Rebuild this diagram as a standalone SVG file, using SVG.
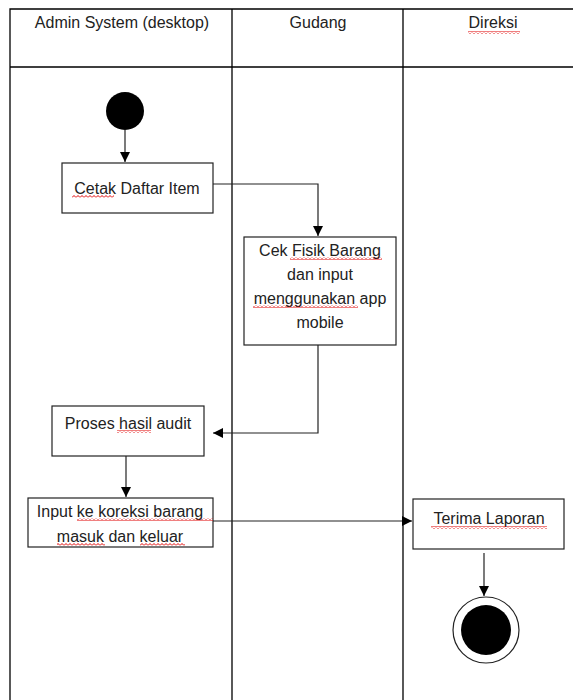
<svg xmlns="http://www.w3.org/2000/svg" width="573" height="700" viewBox="0 0 573 700">
<defs>
<style>
.lane{stroke:#000;stroke-width:1.3;fill:none}
.box{fill:#fff;stroke:#222;stroke-width:1.2}
.t{font-family:"Liberation Sans",Arial,sans-serif;font-size:16px;fill:#222;text-anchor:middle}
.c{stroke:#222;stroke-width:1.2;fill:none}
</style>
<marker id="ah" viewBox="0 0 10 10" refX="10" refY="5" markerWidth="10" markerHeight="10" markerUnits="userSpaceOnUse" orient="auto">
<path d="M0,0 L10,5 L0,10 Z" fill="#000"/>
</marker>
<pattern id="sq" width="4" height="3" patternUnits="userSpaceOnUse">
<path d="M0,2.5 L2,0.5 L4,2.5" stroke="#e00000" stroke-width="1" fill="none"/>
</pattern>
</defs>
<g id="lanes">
<path class="lane" d="M10,700 V9 H573 M232,9 V700 M403,9 V700 M10,67 H573"/>
<text class="t" x="122" y="28">Admin System (desktop)</text>
<text class="t" x="318" y="28">Gudang</text>
<text class="t" x="493" y="28">Direksi</text>
<rect x="468" y="31" width="52" height="3" fill="url(#sq)"/>
</g>
<g id="connectors">
<path class="c" d="M125,130 V162" marker-end="url(#ah)"/>
<path class="c" d="M213,184 H318 V236" marker-end="url(#ah)"/>
<path class="c" d="M318,345 V433 H213" marker-end="url(#ah)"/>
<path class="c" d="M126,456 V497" marker-end="url(#ah)"/>
<path class="c" d="M213,521 H412" marker-end="url(#ah)"/>
<path class="c" d="M484,553 V596" marker-end="url(#ah)"/>
</g>
<g id="start">
<circle cx="125" cy="111" r="19" fill="#000"/>
</g>
<g id="cetak">
<rect class="box" x="62" y="163" width="151" height="50"/>
<text class="t" x="137" y="194">Cetak Daftar Item</text>
<rect x="72" y="195" width="42" height="3" fill="url(#sq)"/>
</g>
<g id="cekfisik">
<rect class="box" x="244" y="237" width="152" height="108"/>
<text class="t" x="320" y="256">Cek Fisik Barang</text>
<text class="t" x="320" y="280">dan input</text>
<text class="t" x="320" y="304">menggunakan app</text>
<text class="t" x="320" y="328">mobile</text>
<rect x="290" y="257" width="92" height="3" fill="url(#sq)"/>
<rect x="253" y="305" width="105" height="3" fill="url(#sq)"/>
</g>
<g id="proses">
<rect class="box" x="52" y="406" width="152" height="50"/>
<text class="t" x="128" y="429">Proses hasil audit</text>
<rect x="117" y="430" width="34" height="3" fill="url(#sq)"/>
</g>
<g id="input">
<rect class="box" x="28" y="498" width="185" height="49"/>
<text class="t" x="120" y="517">Input ke koreksi barang</text>
<text class="t" x="120" y="542">masuk dan keluar</text>
<rect x="77" y="518" width="136" height="3" fill="url(#sq)"/>
<rect x="57" y="543" width="48" height="3" fill="url(#sq)"/>
<rect x="140" y="543" width="45" height="3" fill="url(#sq)"/>
</g>
<g id="terima">
<rect class="box" x="413" y="499" width="151" height="50"/>
<text class="t" x="489" y="524">Terima Laporan</text>
<rect x="431" y="526" width="116" height="3" fill="url(#sq)"/>
</g>
<g id="end">
<circle cx="486" cy="630" r="33" fill="#fff" stroke="#222" stroke-width="1.2"/>
<circle cx="486" cy="630" r="25" fill="#000"/>
</g>
</svg>
